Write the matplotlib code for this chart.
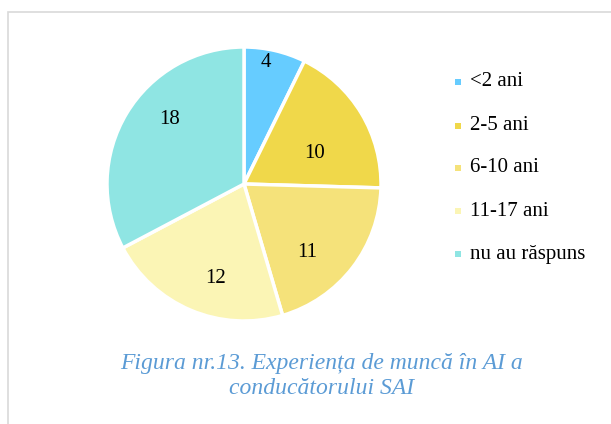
import matplotlib.pyplot as plt
import matplotlib.patches as mpatches
import numpy as np

# date
labels = ['<2 ani', '2-5 ani', '6-10 ani', '11-17 ani', 'nu au răspuns']
values = [4, 10, 11, 12, 18]
colors = ['#66CCFF', '#F0D84A', '#F5E27A', '#FBF5B5', '#8FE5E3']
caption = 'Figura nr.13. Experiența de muncă în AI a\nconducătorului SAI'

W, H = 611, 424
plt.rcParams['font.family'] = ['Liberation Serif', 'DejaVu Serif']

fig = plt.figure(figsize=(W / 100, H / 100), dpi=100)

# cadru gri
fig.add_artist(mpatches.Rectangle((8 / W, -0.1), 1.1, 1 - 12 / H + 0.1, transform=fig.transFigure,
                                  fill=False, edgecolor='#D9D9D9', linewidth=1.2))

# pie
cx, cy, r = 244, 184, 137
ax = fig.add_axes([(cx - r) / W, (H - cy - r) / H, 2 * r / W, 2 * r / H])
wedges, _ = ax.pie(values, colors=colors, startangle=90, counterclock=False,
                   wedgeprops=dict(edgecolor='white', linewidth=2.5), radius=1)
ax.set_xlim(-1, 1)
ax.set_ylim(-1, 1)
ax.set_aspect('auto')

# etichete valori
label_r = [0.9, 0.56, 0.68, 0.72, 0.72]
label_shift = [-3, 8, 10, -6, 10]  # grade
total = sum(values)
start = 0
for v, lr, sh in zip(values, label_r, label_shift):
    mid = (start + v / 2) / total * 360 + sh
    a = np.deg2rad(90 - mid)
    ax.text(lr * np.cos(a), lr * np.sin(a), str(v), ha='center', va='center', fontsize=15)
    start += v

# legenda
leg_y = [82, 126, 168, 211, 254]
for lab, col, y in zip(labels, colors, leg_y):
    fig.add_artist(mpatches.Rectangle((455 / W, (H - y - 3) / H), 6 / W, 6 / H,
                                      transform=fig.transFigure, facecolor=col, edgecolor='none'))
    fig.text(470 / W, (H - y) / H, lab, ha='left', va='center', fontsize=15)

# titlu
fig.text(322 / W, (H - 376) / H, caption, ha='center', va='center', fontsize=17,
         style='italic', color='#5B9BD5', linespacing=1.25)

fig.savefig('out.png', dpi=100)
